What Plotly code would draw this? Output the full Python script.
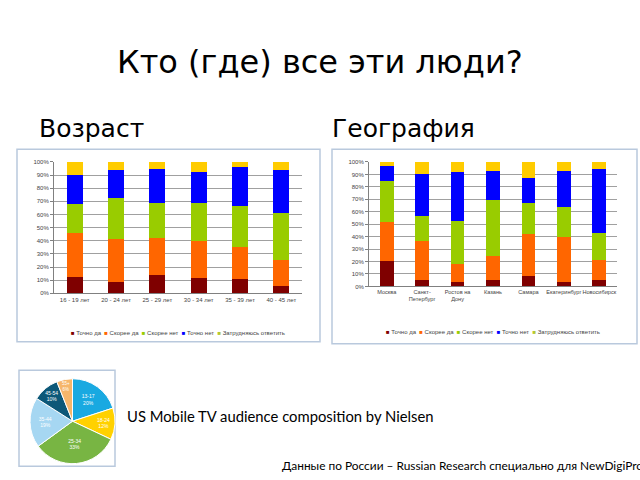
import plotly.graph_objects as go

# ---------- data ----------
series_names = ["Точно да", "Скорее да", "Скорее нет", "Точно нет", "Затрудняюсь ответить"]
series_colors = ["#7F0000", "#FF6600", "#99CC00", "#0000FF", "#FFCC00"]
legend_colors = ["#7F0000", "#FF6600", "#99CC00", "#0000FF", "#B5C830"]

age_categories = ["16 - 19 лет", "20 - 24 лет", "25 - 29 лет", "30 - 34 лет", "35 - 39 лет", "40 - 45 лет"]
age_tochno_da = [12.3, 9.0, 13.8, 11.3, 10.8, 5.5]
age_skoree_da = [33.9, 32.2, 28.4, 28.9, 24.6, 19.6]
age_skoree_net = [22.1, 31.2, 26.6, 28.6, 31.2, 35.9]
age_tochno_net = [21.9, 21.6, 26.2, 23.2, 29.4, 32.7]
age_zatrud = [9.8, 6.0, 5.0, 8.0, 4.0, 6.3]

geo_categories = ["Москва", "Санкт-<br>Петербург", "Ростов на<br>Дону", "Казань", "Самара", "Екатеринбург", "Новосибирск"]
geo_tochno_da = [20.2, 4.8, 3.4, 5.3, 8.0, 3.7, 4.8]
geo_skoree_da = [31.5, 31.8, 14.6, 18.8, 34.4, 36.3, 16.4]
geo_skoree_net = [33.4, 19.9, 34.3, 45.7, 24.7, 23.7, 21.5]
geo_tochno_net = [11.9, 34.0, 40.0, 23.3, 19.9, 29.1, 52.0]
geo_zatrud = [3.0, 9.5, 7.7, 6.9, 13.0, 7.2, 5.3]

pie_labels = ["13-17", "18-24", "25-34", "35-44", "45-54", "55+"]
pie_values = [20, 12, 33, 19, 10, 6]
pie_colors = ["#19A9E1", "#FFD100", "#78B543", "#A6D7F2", "#0D5878", "#F6B66B"]

title_text = "Кто (где) все эти люди?"
left_heading = "Возраст"
right_heading = "География"
pie_caption = "US Mobile TV audience composition by Nielsen"
source_text = "Данные по России – Russian Research специально для NewDigiProduction"

age_series = [age_tochno_da, age_skoree_da, age_skoree_net, age_tochno_net, age_zatrud]
geo_series = [geo_tochno_da, geo_skoree_da, geo_skoree_net, geo_tochno_net, geo_zatrud]

W, H = 640, 480
def px(x): return x / W
def py(y): return 1 - y / H

fig = go.Figure()

for name, color, vals in zip(series_names, series_colors, age_series):
    fig.add_trace(go.Bar(x=age_categories, y=vals, name=name, marker_color=color,
                         marker_line_width=0, width=0.39, xaxis="x", yaxis="y",
                         showlegend=False))
for name, color, vals in zip(series_names, series_colors, geo_series):
    fig.add_trace(go.Bar(x=geo_categories, y=vals, name=name, marker_color=color,
                         marker_line_width=0, width=0.39, xaxis="x2", yaxis="y2",
                         showlegend=False))

fig.add_trace(go.Pie(labels=pie_labels, values=pie_values, sort=False, direction="clockwise",
                     rotation=0, marker=dict(colors=pie_colors, line=dict(color="white", width=1)),
                     texttemplate="%{label}<br>%{percent:.0%}", textposition="inside",
                     insidetextorientation="horizontal",
                     textfont=dict(color="white", size=5, family="Liberation Sans"),
                     domain=dict(x=[px(29.5), px(115.5)], y=[py(466.5), py(380.5)]),
                     showlegend=False, hoverinfo="label+percent"))

tick_font = dict(family="Liberation Sans", size=6, color="#444444")
tick_font2 = dict(family="Liberation Sans", size=5.6, color="#444444")
yax = dict(range=[0, 100], tickvals=list(range(0, 101, 10)),
           ticktext=[f"{v}%" for v in range(0, 101, 10)], tickfont=tick_font,
           showgrid=True, gridcolor="#A0A0A0", gridwidth=1, showline=True,
           linecolor="#808080", linewidth=1, ticks="outside", ticklen=3, tickcolor="#808080",
           zeroline=False, fixedrange=True)
xax = dict(showline=True, linecolor="#808080", linewidth=1, tickangle=0,
           ticks="", showgrid=False, fixedrange=True)

fig.update_layout(
    width=W, height=H, margin=dict(l=0, r=0, t=0, b=0),
    paper_bgcolor="white", plot_bgcolor="white", barmode="stack", bargap=0.6,
    xaxis=dict(domain=[px(54), px(302)], anchor="y", range=[-0.5, 5.5], tickfont=tick_font, **xax),
    yaxis=dict(domain=[py(294), py(161)], anchor="x", **yax),
    xaxis2=dict(domain=[px(369), px(617)], anchor="y2", range=[-0.5, 6.5], tickfont=tick_font2, **xax),
    yaxis2=dict(domain=[py(287), py(161)], anchor="x2", **yax),
)

# chart frames
frame = dict(type="rect", xref="paper", yref="paper", line=dict(color="#B9C9DD", width=1.5),
             fillcolor="rgba(0,0,0,0)", layer="below")
fig.add_shape(x0=px(17), x1=px(320), y0=py(343), y1=py(148), **frame)
fig.add_shape(x0=px(332), x1=px(637), y0=py(345), y1=py(148), **frame)
fig.add_shape(x0=px(19), x1=px(115), y0=py(469), y1=py(372), **frame)

def legend_text():
    parts = []
    for name, c in zip(series_names, legend_colors):
        parts.append(f"<span style='color:{c}'>■</span> {name}")
    return "  ".join(parts)

leg_font = dict(family="Liberation Sans", size=6, color="#444444")
fig.add_annotation(x=px(178), y=py(334), xref="paper", yref="paper", text=legend_text(),
                   showarrow=False, font=leg_font, xanchor="center", yanchor="middle")
fig.add_annotation(x=px(493), y=py(333), xref="paper", yref="paper", text=legend_text(),
                   showarrow=False, font=leg_font, xanchor="center", yanchor="middle")

fig.add_annotation(x=px(320), y=py(60), xref="paper", yref="paper", text=title_text,
                   showarrow=False, font=dict(family="DejaVu Sans", size=32, color="black"),
                   xanchor="center", yanchor="middle")
fig.add_annotation(x=px(37), y=py(127), xref="paper", yref="paper", text=left_heading,
                   showarrow=False, font=dict(family="DejaVu Sans", size=25, color="black"),
                   xanchor="left", yanchor="middle")
fig.add_annotation(x=px(330), y=py(127), xref="paper", yref="paper", text=right_heading,
                   showarrow=False, font=dict(family="DejaVu Sans", size=25, color="black"),
                   xanchor="left", yanchor="middle")
fig.add_annotation(x=px(125), y=py(418), xref="paper", yref="paper", text=pie_caption,
                   showarrow=False, font=dict(family="Lato", size=14.8, color="black"),
                   xanchor="left", yanchor="middle")
fig.add_annotation(x=px(280), y=py(468), xref="paper", yref="paper", text=source_text,
                   showarrow=False, font=dict(family="Lato", size=11.9, color="black"),
                   xanchor="left", yanchor="middle")

fig.write_html("out.html")
